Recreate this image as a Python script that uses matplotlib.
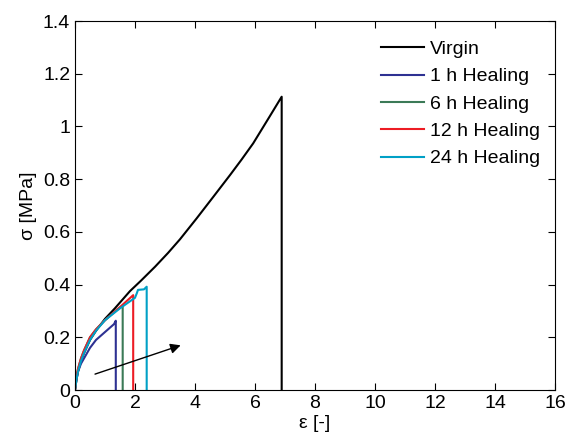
import matplotlib
matplotlib.use("Agg")
import matplotlib.pyplot as plt

plt.rcParams['font.family'] = ['Liberation Sans', 'DejaVu Sans']

virgin_x = [0, 0.05, 0.1, 0.2, 0.3, 0.5, 0.7, 1.0, 1.33, 1.83, 2.2, 2.67, 3.1, 3.5, 4.06, 4.61, 5.17, 5.55, 5.94, 6.5, 6.89, 6.89]
virgin_y = [0, 0.04, 0.07, 0.11, 0.14, 0.19, 0.225, 0.27, 0.31, 0.375, 0.415, 0.468, 0.52, 0.572, 0.652, 0.733, 0.816, 0.874, 0.936, 1.04, 1.113, 0]

h1_x = [0, 0.05, 0.1, 0.2, 0.3, 0.5, 0.7, 0.9, 1.1, 1.3, 1.36, 1.36]
h1_y = [0, 0.04, 0.07, 0.10, 0.12, 0.16, 0.19, 0.21, 0.23, 0.25, 0.263, 0]

h6_x = [0, 0.05, 0.1, 0.2, 0.3, 0.5, 0.7, 1.0, 1.2, 1.4, 1.59, 1.59]
h6_y = [0, 0.05, 0.08, 0.12, 0.15, 0.20, 0.23, 0.265, 0.285, 0.305, 0.319, 0]

h12_x = [0, 0.05, 0.1, 0.2, 0.3, 0.5, 0.7, 1.0, 1.3, 1.6, 1.94, 1.94]
h12_y = [0, 0.05, 0.08, 0.12, 0.15, 0.20, 0.23, 0.265, 0.295, 0.325, 0.36, 0]

h24_x = [0, 0.05, 0.1, 0.2, 0.3, 0.5, 0.7, 1.0, 1.5, 2.0, 2.06, 2.1, 2.3, 2.39, 2.39]
h24_y = [0, 0.04, 0.07, 0.11, 0.14, 0.19, 0.225, 0.265, 0.31, 0.35, 0.367, 0.38, 0.382, 0.392, 0]

labels = ['Virgin', '1 h Healing', '6 h Healing', '12 h Healing', '24 h Healing']
colors = ['#000000', '#2e3192', '#3b7a57', '#ed1c24', '#00a0c6']

arrow_start = (0.58, 0.057)
arrow_end = (3.61, 0.173)

fig = plt.figure(figsize=(5.66, 4.41), dpi=100)
ax = fig.add_axes([0.1325, 0.1156, 0.848, 0.8366])

series = [(virgin_x, virgin_y), (h1_x, h1_y), (h6_x, h6_y), (h12_x, h12_y), (h24_x, h24_y)]
for (x, y), lab, c in zip(series, labels, colors):
    ax.plot(x, y, color=c, lw=1.5, label=lab)

ax.annotate('', xy=arrow_end, xytext=arrow_start,
            arrowprops=dict(arrowstyle='-|>', color='black', lw=1.0, mutation_scale=15))

ax.set_xlim(0, 16)
ax.set_ylim(0, 1.4)
ax.set_xticks(range(0, 17, 2))
ax.set_yticks([0, 0.2, 0.4, 0.6, 0.8, 1.0, 1.2, 1.4])
ax.set_yticklabels(['0', '0.2', '0.4', '0.6', '0.8', '1', '1.2', '1.4'])
ax.tick_params(direction='in', top=True, right=True, labelsize=14, length=5, width=0.8)
ax.set_xlabel('ε [-]', fontsize=14, labelpad=2)
ax.set_ylabel('σ [MPa]', fontsize=14, labelpad=4)
for s in ax.spines.values():
    s.set_linewidth(0.8)

ax.legend(loc='upper right', frameon=False, fontsize=14, handlelength=2.2,
          handletextpad=0.3, labelspacing=0.5, borderaxespad=0.5,
          bbox_to_anchor=(1.005, 0.995))

fig.savefig('out.png', dpi=100)
